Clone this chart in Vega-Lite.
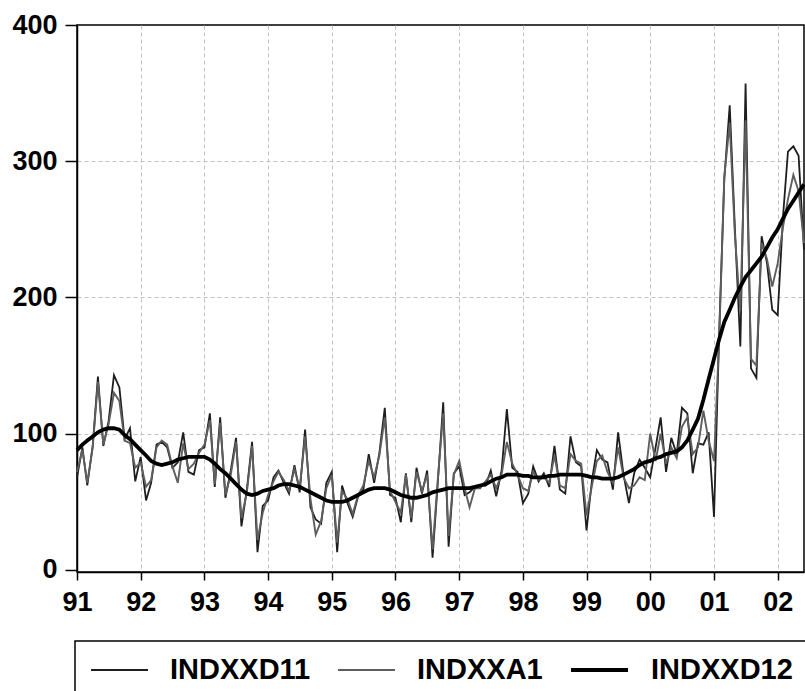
{
"$schema": "https://vega.github.io/schema/vega-lite/v6.json",
"width": 727, "height": 547,
"autosize": {"type": "none"},
"padding": {"left": 77, "top": 25, "right": 1, "bottom": 119},
"background": "white",
"config": {
  "view": {"stroke": "black", "strokeWidth": 1.5},
  "font": "Liberation Sans",
  "axis": {"domainColor": "black", "domainWidth": 1.5, "tickColor": "black", "tickWidth": 1.5, "labelColor": "black", "labelFont": "Liberation Sans", "labelFontWeight": "bold", "labelFontSize": 27, "gridColor": "#c0c0c0", "gridDash": [4, 3], "gridWidth": 1},
  "legend": {"orient": "none", "legendX": -2, "legendY": 616, "direction": "horizontal", "symbolType": "stroke", "symbolSize": 3250, "clipHeight": 28, "labelFont": "Liberation Sans", "labelFontWeight": "bold", "labelFontSize": 29, "labelColor": "black", "labelOffset": 21, "columnPadding": 26, "strokeColor": "black", "strokeWidth": 1.5, "padding": 15}
},
"data": {"format": {"parse": {"d": "date:'%Y-%m'"}}, "values": [
{"d":"1991-01","INDXXD11":68,"INDXXA1":72,"INDXXD12":88},
{"d":"1991-02","INDXXD11":90,"INDXXA1":88,"INDXXD12":92},
{"d":"1991-03","INDXXD11":62,"INDXXA1":64,"INDXXD12":95},
{"d":"1991-04","INDXXD11":91,"INDXXA1":90,"INDXXD12":98},
{"d":"1991-05","INDXXD11":142,"INDXXA1":138,"INDXXD12":101},
{"d":"1991-06","INDXXD11":91,"INDXXA1":92,"INDXXD12":103},
{"d":"1991-07","INDXXD11":109,"INDXXA1":107,"INDXXD12":104},
{"d":"1991-08","INDXXD11":143,"INDXXA1":130,"INDXXD12":104},
{"d":"1991-09","INDXXD11":134,"INDXXA1":124,"INDXXD12":103},
{"d":"1991-10","INDXXD11":96,"INDXXA1":95,"INDXXD12":99},
{"d":"1991-11","INDXXD11":104,"INDXXA1":93,"INDXXD12":96},
{"d":"1991-12","INDXXD11":65,"INDXXA1":75,"INDXXD12":92},
{"d":"1992-01","INDXXD11":83,"INDXXA1":79,"INDXXD12":88},
{"d":"1992-02","INDXXD11":51,"INDXXA1":61,"INDXXD12":84},
{"d":"1992-03","INDXXD11":64,"INDXXA1":66,"INDXXD12":80},
{"d":"1992-04","INDXXD11":92,"INDXXA1":90,"INDXXD12":78},
{"d":"1992-05","INDXXD11":94,"INDXXA1":95,"INDXXD12":77},
{"d":"1992-06","INDXXD11":90,"INDXXA1":92,"INDXXD12":78},
{"d":"1992-07","INDXXD11":75,"INDXXA1":76,"INDXXD12":79},
{"d":"1992-08","INDXXD11":79,"INDXXA1":64,"INDXXD12":81},
{"d":"1992-09","INDXXD11":101,"INDXXA1":93,"INDXXD12":82},
{"d":"1992-10","INDXXD11":72,"INDXXA1":74,"INDXXD12":83},
{"d":"1992-11","INDXXD11":70,"INDXXA1":78,"INDXXD12":83},
{"d":"1992-12","INDXXD11":88,"INDXXA1":86,"INDXXD12":83},
{"d":"1993-01","INDXXD11":90,"INDXXA1":92,"INDXXD12":83},
{"d":"1993-02","INDXXD11":115,"INDXXA1":110,"INDXXD12":81},
{"d":"1993-03","INDXXD11":61,"INDXXA1":63,"INDXXD12":78},
{"d":"1993-04","INDXXD11":112,"INDXXA1":108,"INDXXD12":74},
{"d":"1993-05","INDXXD11":53,"INDXXA1":55,"INDXXD12":71},
{"d":"1993-06","INDXXD11":73,"INDXXA1":70,"INDXXD12":67},
{"d":"1993-07","INDXXD11":97,"INDXXA1":94,"INDXXD12":63},
{"d":"1993-08","INDXXD11":32,"INDXXA1":38,"INDXXD12":59},
{"d":"1993-09","INDXXD11":59,"INDXXA1":57,"INDXXD12":56},
{"d":"1993-10","INDXXD11":94,"INDXXA1":91,"INDXXD12":55},
{"d":"1993-11","INDXXD11":13,"INDXXA1":22,"INDXXD12":56},
{"d":"1993-12","INDXXD11":47,"INDXXA1":42,"INDXXD12":58},
{"d":"1994-01","INDXXD11":51,"INDXXA1":55,"INDXXD12":59},
{"d":"1994-02","INDXXD11":68,"INDXXA1":65,"INDXXD12":60},
{"d":"1994-03","INDXXD11":73,"INDXXA1":72,"INDXXD12":62},
{"d":"1994-04","INDXXD11":64,"INDXXA1":66,"INDXXD12":63},
{"d":"1994-05","INDXXD11":56,"INDXXA1":58,"INDXXD12":63},
{"d":"1994-06","INDXXD11":77,"INDXXA1":74,"INDXXD12":62},
{"d":"1994-07","INDXXD11":57,"INDXXA1":60,"INDXXD12":61},
{"d":"1994-08","INDXXD11":103,"INDXXA1":98,"INDXXD12":59},
{"d":"1994-09","INDXXD11":46,"INDXXA1":52,"INDXXD12":57},
{"d":"1994-10","INDXXD11":37,"INDXXA1":26,"INDXXD12":55},
{"d":"1994-11","INDXXD11":34,"INDXXA1":36,"INDXXD12":53},
{"d":"1994-12","INDXXD11":64,"INDXXA1":60,"INDXXD12":51},
{"d":"1995-01","INDXXD11":72,"INDXXA1":70,"INDXXD12":50},
{"d":"1995-02","INDXXD11":13,"INDXXA1":20,"INDXXD12":50},
{"d":"1995-03","INDXXD11":62,"INDXXA1":58,"INDXXD12":50},
{"d":"1995-04","INDXXD11":49,"INDXXA1":52,"INDXXD12":51},
{"d":"1995-05","INDXXD11":39,"INDXXA1":41,"INDXXD12":53},
{"d":"1995-06","INDXXD11":54,"INDXXA1":55,"INDXXD12":55},
{"d":"1995-07","INDXXD11":59,"INDXXA1":62,"INDXXD12":57},
{"d":"1995-08","INDXXD11":85,"INDXXA1":80,"INDXXD12":59},
{"d":"1995-09","INDXXD11":64,"INDXXA1":68,"INDXXD12":60},
{"d":"1995-10","INDXXD11":86,"INDXXA1":84,"INDXXD12":60},
{"d":"1995-11","INDXXD11":119,"INDXXA1":112,"INDXXD12":60},
{"d":"1995-12","INDXXD11":55,"INDXXA1":58,"INDXXD12":59},
{"d":"1996-01","INDXXD11":53,"INDXXA1":50,"INDXXD12":57},
{"d":"1996-02","INDXXD11":35,"INDXXA1":42,"INDXXD12":55},
{"d":"1996-03","INDXXD11":71,"INDXXA1":70,"INDXXD12":54},
{"d":"1996-04","INDXXD11":35,"INDXXA1":38,"INDXXD12":53},
{"d":"1996-05","INDXXD11":75,"INDXXA1":72,"INDXXD12":53},
{"d":"1996-06","INDXXD11":56,"INDXXA1":58,"INDXXD12":54},
{"d":"1996-07","INDXXD11":73,"INDXXA1":70,"INDXXD12":55},
{"d":"1996-08","INDXXD11":9,"INDXXA1":15,"INDXXD12":57},
{"d":"1996-09","INDXXD11":66,"INDXXA1":68,"INDXXD12":58},
{"d":"1996-10","INDXXD11":123,"INDXXA1":115,"INDXXD12":59},
{"d":"1996-11","INDXXD11":17,"INDXXA1":25,"INDXXD12":60},
{"d":"1996-12","INDXXD11":71,"INDXXA1":70,"INDXXD12":60},
{"d":"1997-01","INDXXD11":76,"INDXXA1":80,"INDXXD12":60},
{"d":"1997-02","INDXXD11":55,"INDXXA1":60,"INDXXD12":60},
{"d":"1997-03","INDXXD11":57,"INDXXA1":46,"INDXXD12":60},
{"d":"1997-04","INDXXD11":61,"INDXXA1":60,"INDXXD12":61},
{"d":"1997-05","INDXXD11":62,"INDXXA1":60,"INDXXD12":62},
{"d":"1997-06","INDXXD11":62,"INDXXA1":65,"INDXXD12":63},
{"d":"1997-07","INDXXD11":73,"INDXXA1":70,"INDXXD12":65},
{"d":"1997-08","INDXXD11":54,"INDXXA1":60,"INDXXD12":67},
{"d":"1997-09","INDXXD11":73,"INDXXA1":70,"INDXXD12":68},
{"d":"1997-10","INDXXD11":118,"INDXXA1":94,"INDXXD12":70},
{"d":"1997-11","INDXXD11":75,"INDXXA1":78,"INDXXD12":70},
{"d":"1997-12","INDXXD11":72,"INDXXA1":70,"INDXXD12":70},
{"d":"1998-01","INDXXD11":49,"INDXXA1":60,"INDXXD12":69},
{"d":"1998-02","INDXXD11":56,"INDXXA1":58,"INDXXD12":69},
{"d":"1998-03","INDXXD11":76,"INDXXA1":72,"INDXXD12":68},
{"d":"1998-04","INDXXD11":65,"INDXXA1":66,"INDXXD12":68},
{"d":"1998-05","INDXXD11":71,"INDXXA1":68,"INDXXD12":68},
{"d":"1998-06","INDXXD11":61,"INDXXA1":64,"INDXXD12":69},
{"d":"1998-07","INDXXD11":91,"INDXXA1":84,"INDXXD12":69},
{"d":"1998-08","INDXXD11":59,"INDXXA1":62,"INDXXD12":70},
{"d":"1998-09","INDXXD11":56,"INDXXA1":60,"INDXXD12":70},
{"d":"1998-10","INDXXD11":98,"INDXXA1":85,"INDXXD12":70},
{"d":"1998-11","INDXXD11":79,"INDXXA1":80,"INDXXD12":70},
{"d":"1998-12","INDXXD11":76,"INDXXA1":78,"INDXXD12":70},
{"d":"1999-01","INDXXD11":29,"INDXXA1":40,"INDXXD12":69},
{"d":"1999-02","INDXXD11":66,"INDXXA1":62,"INDXXD12":68},
{"d":"1999-03","INDXXD11":88,"INDXXA1":80,"INDXXD12":68},
{"d":"1999-04","INDXXD11":81,"INDXXA1":84,"INDXXD12":67},
{"d":"1999-05","INDXXD11":79,"INDXXA1":72,"INDXXD12":67},
{"d":"1999-06","INDXXD11":59,"INDXXA1":64,"INDXXD12":67},
{"d":"1999-07","INDXXD11":101,"INDXXA1":90,"INDXXD12":68},
{"d":"1999-08","INDXXD11":70,"INDXXA1":68,"INDXXD12":70},
{"d":"1999-09","INDXXD11":49,"INDXXA1":60,"INDXXD12":72},
{"d":"1999-10","INDXXD11":71,"INDXXA1":62,"INDXXD12":74},
{"d":"1999-11","INDXXD11":81,"INDXXA1":68,"INDXXD12":77},
{"d":"1999-12","INDXXD11":75,"INDXXA1":66,"INDXXD12":79},
{"d":"2000-01","INDXXD11":68,"INDXXA1":100,"INDXXD12":80},
{"d":"2000-02","INDXXD11":90,"INDXXA1":80,"INDXXD12":82},
{"d":"2000-03","INDXXD11":112,"INDXXA1":100,"INDXXD12":83},
{"d":"2000-04","INDXXD11":72,"INDXXA1":78,"INDXXD12":85},
{"d":"2000-05","INDXXD11":97,"INDXXA1":90,"INDXXD12":86},
{"d":"2000-06","INDXXD11":85,"INDXXA1":82,"INDXXD12":87},
{"d":"2000-07","INDXXD11":119,"INDXXA1":105,"INDXXD12":90},
{"d":"2000-08","INDXXD11":115,"INDXXA1":112,"INDXXD12":95},
{"d":"2000-09","INDXXD11":71,"INDXXA1":85,"INDXXD12":103},
{"d":"2000-10","INDXXD11":93,"INDXXA1":90,"INDXXD12":111},
{"d":"2000-11","INDXXD11":92,"INDXXA1":117,"INDXXD12":125},
{"d":"2000-12","INDXXD11":101,"INDXXA1":95,"INDXXD12":140},
{"d":"2001-01","INDXXD11":39,"INDXXA1":80,"INDXXD12":155},
{"d":"2001-02","INDXXD11":180,"INDXXA1":175,"INDXXD12":170},
{"d":"2001-03","INDXXD11":287,"INDXXA1":289,"INDXXD12":182},
{"d":"2001-04","INDXXD11":341,"INDXXA1":328,"INDXXD12":191},
{"d":"2001-05","INDXXD11":250,"INDXXA1":245,"INDXXD12":200},
{"d":"2001-06","INDXXD11":164,"INDXXA1":190,"INDXXD12":208},
{"d":"2001-07","INDXXD11":357,"INDXXA1":330,"INDXXD12":215},
{"d":"2001-08","INDXXD11":148,"INDXXA1":155,"INDXXD12":220},
{"d":"2001-09","INDXXD11":141,"INDXXA1":150,"INDXXD12":225},
{"d":"2001-10","INDXXD11":245,"INDXXA1":240,"INDXXD12":230},
{"d":"2001-11","INDXXD11":225,"INDXXA1":228,"INDXXD12":237},
{"d":"2001-12","INDXXD11":191,"INDXXA1":208,"INDXXD12":244},
{"d":"2002-01","INDXXD11":187,"INDXXA1":225,"INDXXD12":250},
{"d":"2002-02","INDXXD11":260,"INDXXA1":252,"INDXXD12":258},
{"d":"2002-03","INDXXD11":307,"INDXXA1":272,"INDXXD12":265},
{"d":"2002-04","INDXXD11":311,"INDXXA1":290,"INDXXD12":271},
{"d":"2002-05","INDXXD11":304,"INDXXA1":278,"INDXXD12":277},
{"d":"2002-06","INDXXD11":235,"INDXXA1":240,"INDXXD12":283}
]},
"transform": [{"fold": ["INDXXD11", "INDXXA1", "INDXXD12"], "as": ["series", "value"]}],
"encoding": {
  "x": {"field": "d", "type": "temporal",
        "scale": {"domain": [{"year": 1991, "month": 1, "date": 1}, {"year": 2002, "month": 6, "date": 1}], "nice": false},
        "axis": {"title": null, "format": "%y", "grid": true, "tickSize": 8, "labelPadding": 9, "labelFlush": false,
                 "values": [{"year": 1991}, {"year": 1992}, {"year": 1993}, {"year": 1994}, {"year": 1995}, {"year": 1996}, {"year": 1997}, {"year": 1998}, {"year": 1999}, {"year": 2000}, {"year": 2001}, {"year": 2002}]}},
  "y": {"field": "value", "type": "quantitative",
        "scale": {"domain": [-1.5, 400], "nice": false, "zero": false},
        "axis": {"title": null, "values": [0, 100, 200, 300, 400], "tickSize": 12, "labelPadding": 8, "grid": true, "labelFlush": false,
                 "gridOpacity": {"condition": {"test": "datum.value == 0 || datum.value == 400", "value": 0}, "value": 1}}},
  "color": {"field": "series", "type": "nominal",
            "scale": {"domain": ["INDXXD11", "INDXXA1", "INDXXD12"], "range": ["#1e1e1e", "#5e5e5e", "#000000"]},
            "legend": {"title": null}},
  "strokeWidth": {"field": "series", "type": "nominal",
            "scale": {"type": "ordinal", "domain": ["INDXXD11", "INDXXA1", "INDXXD12"], "range": [1.8, 1.9, 3.8]},
            "legend": {"title": null}}
},
"layer": [
  {"transform": [{"filter": {"field": "series", "equal": "INDXXD11"}}], "mark": {"type": "line"}},
  {"transform": [{"filter": {"field": "series", "equal": "INDXXA1"}}], "mark": {"type": "line"}},
  {"transform": [{"filter": {"field": "series", "equal": "INDXXD12"}}], "mark": {"type": "line"}}
]
}
